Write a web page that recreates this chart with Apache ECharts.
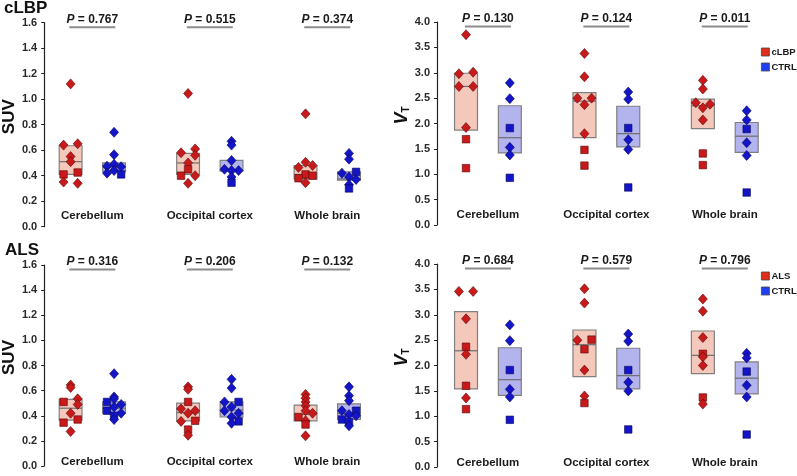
<!DOCTYPE html>
<html>
<head>
<meta charset="utf-8">
<script src="https://cdn.jsdelivr.net/npm/echarts@6.0.0/dist/echarts.min.js"></script>
<style>
  html, body { margin: 0; padding: 0; background: #fff; }
  #chart { width: 797px; height: 476px; }
</style>
</head>
<body>
<div id="chart"></div>
<script>
// x categories
const regions = ["Cerebellum", "Occipital cortex", "Whole brain"];

// points per region: [value, shape ('d' diamond / 's' square), side (-1 left, 0 centre, 1 right)]
const lbpSuvPat = [
  [[1.12, "d", 0], [0.64, "d", -1], [0.65, "d", 1], [0.55, "d", 0], [0.51, "d", 0], [0.425, "s", 1], [0.41, "s", -1], [0.35, "d", -1], [0.34, "d", 1]],
  [[1.045, "d", 0], [0.61, "d", 1], [0.58, "d", -1], [0.56, "d", 1], [0.5, "d", 0], [0.45, "s", 0], [0.4, "s", -1], [0.4, "d", 1], [0.34, "d", 0]],
  [[0.885, "d", 0], [0.505, "d", 0], [0.48, "d", 1], [0.465, "d", -1], [0.41, "s", 0], [0.4, "s", 1], [0.38, "s", -1], [0.345, "d", 0]],
];
const lbpSuvCtrl = [
  [[0.74, "d", 0], [0.565, "d", 0], [0.49, "d", 0], [0.475, "d", -1], [0.47, "d", 1], [0.44, "d", 0], [0.42, "d", -1], [0.41, "s", 1]],
  [[0.67, "d", 0], [0.64, "d", 0], [0.52, "d", 0], [0.45, "d", -1], [0.44, "d", 1], [0.44, "d", 0], [0.39, "d", 0], [0.345, "s", 0]],
  [[0.575, "d", 0], [0.53, "d", 0], [0.43, "s", 1], [0.42, "d", -1], [0.39, "d", 0], [0.37, "d", 1], [0.33, "d", 0], [0.3, "s", 0]],
];
const lbpVtPat = [
  [[3.75, "d", 0], [2.98, "d", -1], [3.01, "d", 1], [2.73, "d", -1], [2.73, "d", 1], [1.92, "d", 0], [1.69, "s", 0], [1.12, "s", 0]],
  [[3.38, "d", 0], [2.92, "d", 0], [2.5, "d", -1], [2.5, "d", 1], [2.37, "d", 0], [1.8, "d", 0], [1.48, "s", 0], [1.17, "s", 0]],
  [[2.85, "d", 0], [2.68, "d", 0], [2.41, "d", -1], [2.38, "d", 1], [2.31, "d", 0], [2.07, "d", 0], [1.41, "s", 0], [1.18, "s", 0]],
];
const lbpVtCtrl = [
  [[2.8, "d", 0], [2.49, "d", 0], [1.91, "s", 0], [1.53, "d", 0], [1.38, "d", 0], [0.93, "s", 0]],
  [[2.62, "d", 0], [2.48, "d", 0], [1.91, "s", 0], [1.68, "d", 0], [1.49, "d", 0], [0.74, "s", 0]],
  [[2.25, "d", 0], [2.07, "d", 0], [1.89, "s", 0], [1.62, "d", 0], [1.37, "d", 0], [0.64, "s", 0]],
];
const alsSuvPat = [
  [[0.645, "d", 0], [0.625, "d", 0], [0.535, "d", 1], [0.51, "s", -1], [0.49, "d", 1], [0.42, "d", 0], [0.37, "s", 1], [0.345, "s", -1], [0.275, "d", 0]],
  [[0.63, "d", 0], [0.61, "d", 0], [0.51, "s", 0], [0.455, "d", -1], [0.44, "d", 1], [0.42, "d", 0], [0.36, "s", 1], [0.355, "d", -1], [0.29, "s", 0], [0.245, "d", 0]],
  [[0.57, "d", 0], [0.54, "d", 0], [0.51, "d", 0], [0.48, "d", 0], [0.44, "d", 0], [0.42, "d", 1], [0.39, "s", -1], [0.36, "d", 0], [0.33, "s", 0], [0.24, "d", 0]],
];
const alsSuvCtrl = [
  [[0.735, "d", 0], [0.55, "d", 0], [0.535, "d", 0], [0.51, "s", -1], [0.49, "d", 1], [0.47, "d", 0], [0.44, "s", -1], [0.42, "d", 1], [0.4, "s", 0], [0.37, "d", 0]],
  [[0.69, "d", 0], [0.62, "d", 0], [0.51, "d", -1], [0.51, "s", 1], [0.47, "d", 0], [0.44, "d", -1], [0.42, "d", 1], [0.39, "d", 0], [0.355, "s", 1], [0.34, "d", 0]],
  [[0.63, "d", 0], [0.56, "d", 0], [0.52, "d", 0], [0.44, "s", 1], [0.44, "d", -1], [0.41, "d", 0], [0.4, "d", 1], [0.37, "s", -1], [0.35, "s", 0], [0.32, "d", 0]],
];
const alsVtPat = [
  [[3.46, "d", -1], [3.46, "d", 1], [2.92, "d", 0], [2.37, "s", 0], [2.22, "d", 0], [1.6, "s", 0], [1.36, "d", 0], [1.14, "s", 0]],
  [[3.51, "d", 0], [3.23, "d", 0], [2.5, "d", -1], [2.51, "s", 1], [2.32, "s", 0], [1.91, "d", 0], [1.4, "d", 0], [1.26, "s", 0]],
  [[3.31, "d", 0], [3.07, "d", 0], [2.55, "d", 0], [2.23, "s", 0], [2.17, "d", 0], [2.0, "d", 0], [1.37, "s", 0], [1.24, "d", 0]],
];
const alsVtCtrl = [
  [[2.8, "d", 0], [2.49, "d", 0], [1.91, "s", 0], [1.53, "d", 0], [1.38, "d", 0], [0.93, "s", 0]],
  [[2.62, "d", 0], [2.48, "d", 0], [1.91, "s", 0], [1.67, "d", 0], [1.5, "d", 0], [0.74, "s", 0]],
  [[2.24, "d", 0], [2.15, "d", 0], [1.88, "s", 0], [1.61, "d", 0], [1.38, "d", 0], [0.64, "s", 0]],
];

// boxes per region: [low, middle line, high]
const lbpSuvPatBox = [[0.41, 0.51, 0.635], [0.41, 0.5, 0.575], [0.375, 0.41, 0.48]];
const lbpSuvCtrlBox = [[0.43, 0.465, 0.5], [0.435, 0.445, 0.52], [0.365, 0.375, 0.43]];
const lbpVtPatBox = [[1.87, 2.73, 2.99], [1.72, 2.44, 2.61], [1.9, 2.35, 2.48]];
const lbpVtCtrlBox = [[1.42, 1.72, 2.35], [1.54, 1.8, 2.34], [1.43, 1.75, 2.02]];
const alsSuvPatBox = [[0.365, 0.46, 0.53], [0.36, 0.425, 0.5], [0.36, 0.41, 0.485]];
const alsSuvCtrlBox = [[0.42, 0.46, 0.51], [0.39, 0.445, 0.51], [0.37, 0.42, 0.495]];
const alsVtPatBox = [[1.54, 2.29, 3.06], [1.78, 2.41, 2.7], [1.84, 2.2, 2.68]];
const alsVtCtrlBox = [[1.41, 1.72, 2.35], [1.54, 1.8, 2.34], [1.44, 1.75, 2.07]];

// p values
const pLbpSuv = ["0.767", "0.515", "0.374"];
const pLbpVt = ["0.130", "0.124", "0.011"];
const pAlsSuv = ["0.316", "0.206", "0.132"];
const pAlsVt = ["0.684", "0.579", "0.796"];

const FONT = "'Liberation Sans', Arial, sans-serif";
const RED = "#c8191b", BLUE = "#1414c8";
const RED_BOX = "#f5c8bc", BLUE_BOX = "#b3b3ee";
const groupOff = 0.185, jit = 0.06, halfW = 0.097;

const panels = [
  { pat: lbpSuvPat, ctrl: lbpSuvCtrl, patBox: lbpSuvPatBox, ctrlBox: lbpSuvCtrlBox, p: pLbpSuv, patName: "cLBP",
    grid: { left: 40, top: 22.7, width: 346, height: 204 }, xMin: 0.59, max: 1.6, step: 0.2, suv: true, labelMargin: 5 },
  { pat: lbpVtPat, ctrl: lbpVtCtrl, patBox: lbpVtPatBox, ctrlBox: lbpVtCtrlBox, p: pLbpVt, patName: "cLBP",
    grid: { left: 437, top: 22, width: 347, height: 203 }, xMin: 0.57, max: 4, step: 0.5, suv: false, labelMargin: 4 },
  { pat: alsSuvPat, ctrl: alsSuvCtrl, patBox: alsSuvPatBox, ctrlBox: alsSuvCtrlBox, p: pAlsSuv, patName: "ALS",
    grid: { left: 40, top: 265, width: 346, height: 201 }, xMin: 0.59, max: 1.6, step: 0.2, suv: true, labelMargin: -2 },
  { pat: alsVtPat, ctrl: alsVtCtrl, patBox: alsVtPatBox, ctrlBox: alsVtCtrlBox, p: pAlsVt, patName: "ALS",
    grid: { left: 437, top: 264, width: 347, height: 203 }, xMin: 0.57, max: 4, step: 0.5, suv: false, labelMargin: -2 },
];

function pointData(groups, off) {
  const out = [];
  groups.forEach((g, i) => {
    g.forEach((p) => {
      const sq = p[1] === "s";
      out.push({
        value: [i + 1 + off + p[2] * jit, p[0]],
        symbol: sq ? "rect" : "diamond",
        symbolSize: sq ? 7.5 : [9, 10],
      });
    });
  });
  return out;
}

function boxSeries(k, boxes, off, fill) {
  return {
    type: "custom",
    xAxisIndex: k,
    yAxisIndex: k,
    silent: true,
    z: 1,
    data: boxes.map((b, i) => [i + 1 + off, b[0], b[1], b[2]]),
    renderItem: (params, api) => {
      const x = api.value(0);
      const tl = api.coord([x - halfW, api.value(3)]);
      const br = api.coord([x + halfW, api.value(1)]);
      const m = api.coord([x, api.value(2)]);
      return {
        type: "group",
        children: [
          { type: "rect", shape: { x: tl[0], y: tl[1], width: br[0] - tl[0], height: br[1] - tl[1] },
            style: { fill: fill, stroke: "#808080", lineWidth: 1.2 } },
          { type: "line", shape: { x1: tl[0], y1: m[1], x2: br[0], y2: m[1] },
            style: { stroke: "#6e6e6e", lineWidth: 1.2 } },
        ],
      };
    },
  };
}

function pSeries(k, pv, ymax) {
  return {
    type: "custom",
    xAxisIndex: k,
    yAxisIndex: k,
    silent: true,
    z: 3,
    data: pv.map((v, i) => [i + 1, ymax]),
    renderItem: (params, api) => {
      const c = api.coord([api.value(0), api.value(1)]);
      const y = c[1] + 4.5;
      return {
        type: "group",
        children: [
          { type: "line", shape: { x1: c[0] - 23, y1: y, x2: c[0] + 23, y2: y },
            style: { stroke: "#8c8c8c", lineWidth: 2 } },
          { type: "text", x: c[0], y: y - 1.5,
            style: {
              text: "{i|P}{n| = " + pv[params.dataIndex] + "}",
              align: "center", verticalAlign: "bottom", fill: "#1a1a1a",
              rich: {
                i: { fontStyle: "italic", fontWeight: "bold", fontSize: 12, fontFamily: FONT, fill: "#1a1a1a" },
                n: { fontWeight: "bold", fontSize: 12, fontFamily: FONT, fill: "#1a1a1a" },
              },
            } },
        ],
      };
    },
  };
}

const grids = [], xAxes = [], yAxes = [], series = [];
panels.forEach((pn, k) => {
  grids.push(pn.grid);
  xAxes.push({
    type: "value", gridIndex: k, min: pn.xMin, max: 3.5,
    axisLine: { show: false }, axisTick: { show: false }, splitLine: { show: false },
    axisLabel: {
      inside: true, margin: pn.labelMargin, customValues: [1, 2, 3],
      formatter: (v) => regions[Math.round(v) - 1] || "",
      fontFamily: FONT, fontWeight: "bold", fontSize: 11.5, color: "#1a1a1a",
    },
  });
  yAxes.push({
    type: "value", gridIndex: k, min: 0, max: pn.max, interval: pn.step,
    name: pn.suv ? "SUV" : "{v|V}{t|T}",
    nameLocation: "middle", nameRotate: 90, nameGap: pn.suv ? 20 : 23,
    nameTextStyle: pn.suv
      ? { fontFamily: FONT, fontWeight: "bold", fontSize: 17, color: "#111", padding: [0, 0, 0, 16] }
      : { fontFamily: FONT, color: "#111", padding: [0, 0, 0, 16],
          rich: {
            v: { fontFamily: FONT, fontWeight: "bold", fontStyle: "italic", fontSize: 18, color: "#111" },
            t: { fontFamily: FONT, fontWeight: "bold", fontSize: 10, color: "#111", verticalAlign: "bottom", padding: [8, 0, 0, 0] },
          } },
    axisLine: { show: true, lineStyle: { color: "#222", width: 1.2 } },
    axisTick: { show: true, length: 3, lineStyle: { color: "#222" } },
    splitLine: { show: false },
    axisLabel: {
      margin: 7, fontFamily: FONT, fontWeight: "bold", fontSize: 11, color: "#2a2a2a",
      formatter: (v) => v.toFixed(1),
    },
  });
  series.push(boxSeries(k, pn.patBox, -groupOff, RED_BOX));
  series.push(boxSeries(k, pn.ctrlBox, groupOff, BLUE_BOX));
  series.push({
    type: "scatter", name: pn.patName, xAxisIndex: k, yAxisIndex: k, z: 2,
    data: pointData(pn.pat, -groupOff),
    itemStyle: { color: RED, borderColor: "#5a0808", borderWidth: 0.6, opacity: 1 },
  });
  series.push({
    type: "scatter", name: "CTRL", xAxisIndex: k, yAxisIndex: k, z: 2,
    data: pointData(pn.ctrl, groupOff),
    itemStyle: { color: BLUE, borderColor: "#06065a", borderWidth: 0.6, opacity: 1 },
  });
  series.push(pSeries(k, pn.p, pn.max));
});

const legendBase = {
  orient: "vertical", left: 761, padding: 0, icon: "rect", itemWidth: 8, itemHeight: 8, itemGap: 5,
  selectedMode: false,
  textStyle: { fontFamily: FONT, fontWeight: "bold", fontSize: 9.5, color: "#1a1a1a", padding: [0, 0, 0, -3] },
};
const redIcon = { color: "#e0301c", borderColor: "#444", borderWidth: 0.8 };
const blueIcon = { color: "#2040f0", borderColor: "#444", borderWidth: 0.8 };

const chart = echarts.init(document.getElementById("chart"));
chart.setOption({
  animation: false,
  backgroundColor: "#fff",
  grid: grids,
  xAxis: xAxes,
  yAxis: yAxes,
  legend: [
    Object.assign({}, legendBase, { top: 47, data: [{ name: "cLBP", itemStyle: redIcon }, { name: "CTRL", itemStyle: blueIcon }] }),
    Object.assign({}, legendBase, { top: 271, data: [{ name: "ALS", itemStyle: redIcon }, { name: "CTRL", itemStyle: blueIcon }] }),
  ],
  graphic: [
    { type: "text", left: 4, top: 0, style: { text: "cLBP", font: "bold 17px " + FONT, fill: "#111" } },
    { type: "text", left: 5, top: 242, style: { text: "ALS", font: "bold 17px " + FONT, fill: "#111" } },
  ],
  series: series,
});
</script>
</body>
</html>
